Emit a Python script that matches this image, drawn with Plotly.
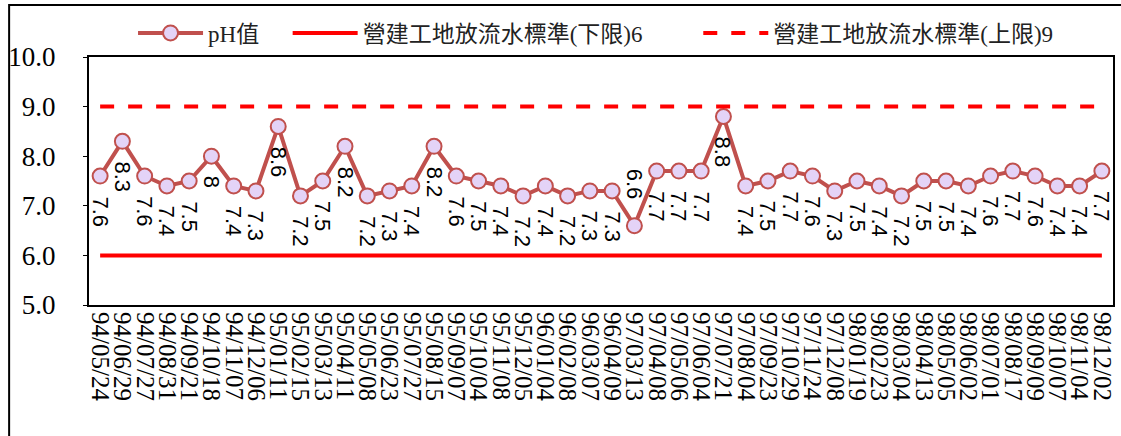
import plotly.graph_objects as go

dates = ["94/05/24", "94/06/29", "94/07/27", "94/08/31", "94/09/21", "94/10/18", "94/11/07", "94/12/06",
         "95/01/11", "95/02/15", "95/03/13", "95/04/11", "95/05/08", "95/06/23", "95/07/27", "95/08/15",
         "95/09/07", "95/10/04", "95/11/08", "95/12/05", "96/01/04", "96/02/08", "96/03/07", "96/04/09",
         "97/03/13", "97/04/08", "97/05/06", "97/06/04", "97/07/21", "97/08/04", "97/09/23", "97/10/29",
         "97/11/24", "97/12/08", "98/01/19", "98/02/23", "98/03/04", "98/04/13", "98/05/05", "98/06/02",
         "98/07/01", "98/08/17", "98/09/09", "98/10/07", "98/11/04", "98/12/02"]
ph_values = [7.6, 8.3, 7.6, 7.4, 7.5, 8, 7.4, 7.3, 8.6, 7.2, 7.5, 8.2, 7.2, 7.3, 7.4, 8.2,
             7.6, 7.5, 7.4, 7.2, 7.4, 7.2, 7.3, 7.3, 6.6, 7.7, 7.7, 7.7, 8.8, 7.4, 7.5, 7.7,
             7.6, 7.3, 7.5, 7.4, 7.2, 7.5, 7.5, 7.4, 7.6, 7.7, 7.6, 7.4, 7.4, 7.7]
lower_limit = 6
upper_limit = 9
y_ticks = [5, 6, 7, 8, 9, 10]
labels_above = {"97/03/13"}

name_ph = "pH值"
name_lower = "營建工地放流水標準(下限)6"
name_upper = "營建工地放流水標準(上限)9"

SERIF = "Liberation Serif, Times New Roman, Noto Sans CJK TC, serif"
SANS = "Liberation Sans, Arial, sans-serif"

fig = go.Figure()
fig.add_trace(go.Scatter(
    x=dates, y=ph_values, name=name_ph, mode="lines+markers", legend="legend",
    line=dict(color="#C0504D", width=4),
    marker=dict(symbol="circle", size=15, color="#E4D3F7",
                line=dict(color="#C0504D", width=2)),
))
fig.add_trace(go.Scatter(
    x=dates, y=[lower_limit] * len(dates), name=name_lower, mode="lines", legend="legend2",
    line=dict(color="#FF0000", width=4),
))
fig.add_trace(go.Scatter(
    x=dates, y=[upper_limit] * len(dates), name=name_upper, mode="lines", legend="legend3",
    line=dict(color="#FF0000", width=4, dash="14px,14px"),
))

annotations = []
for d, v in zip(dates, ph_values):
    above = d in labels_above
    annotations.append(dict(
        x=d, y=v, xref="x", yref="y", text=f"{v:g}", showarrow=False,
        textangle=90, xanchor="center",
        yanchor="bottom" if above else "top",
        yshift=24 if above else -18,
        font=dict(family=SANS, size=22, color="black"),
    ))

shapes = [dict(type="rect", xref="paper", yref="paper",
               x0=-0.078, x1=1.02, y0=-0.6, y1=1.21,
               line=dict(color="black", width=2), fillcolor="rgba(0,0,0,0)",
               layer="above")]

legend_common = dict(orientation="h", y=1.097, yanchor="middle", xanchor="left",
                     font=dict(family=SERIF, size=23, color="#222"), itemwidth=65,
                     bgcolor="rgba(0,0,0,0)", borderwidth=0)

fig.update_layout(
    width=1121, height=436,
    margin=dict(l=89, r=8, t=57, b=131, autoexpand=False),
    paper_bgcolor="white", plot_bgcolor="white",
    showlegend=True,
    legend=dict(x=0.043, **legend_common),
    legend2=dict(x=0.194, **legend_common),
    legend3=dict(x=0.595, **legend_common),
    annotations=annotations,
    shapes=shapes,
    xaxis=dict(type="category", range=[-0.5, len(dates) - 0.5],
               tickmode="array", tickvals=dates, ticktext=dates,
               showline=True, linecolor="black", linewidth=2, mirror=True,
               showgrid=False, ticks="", tickangle=90, automargin=False,
               tickfont=dict(family=SERIF, size=25, color="black"), zeroline=False),
    yaxis=dict(range=[5, 10], tickvals=y_ticks, ticktext=[f"{t:.1f}" for t in y_ticks],
               showline=True, linecolor="black", linewidth=2, mirror=True,
               showgrid=False, ticks="outside", ticklen=4, tickcolor="black",
               ticklabelstandoff=22, automargin=False,
               tickfont=dict(family=SERIF, size=27, color="black"), zeroline=False),
)

fig.write_html("out.html", config={"displayModeBar": False},
               post_script="document.body.style.margin='0';document.body.style.overflow='hidden';")
